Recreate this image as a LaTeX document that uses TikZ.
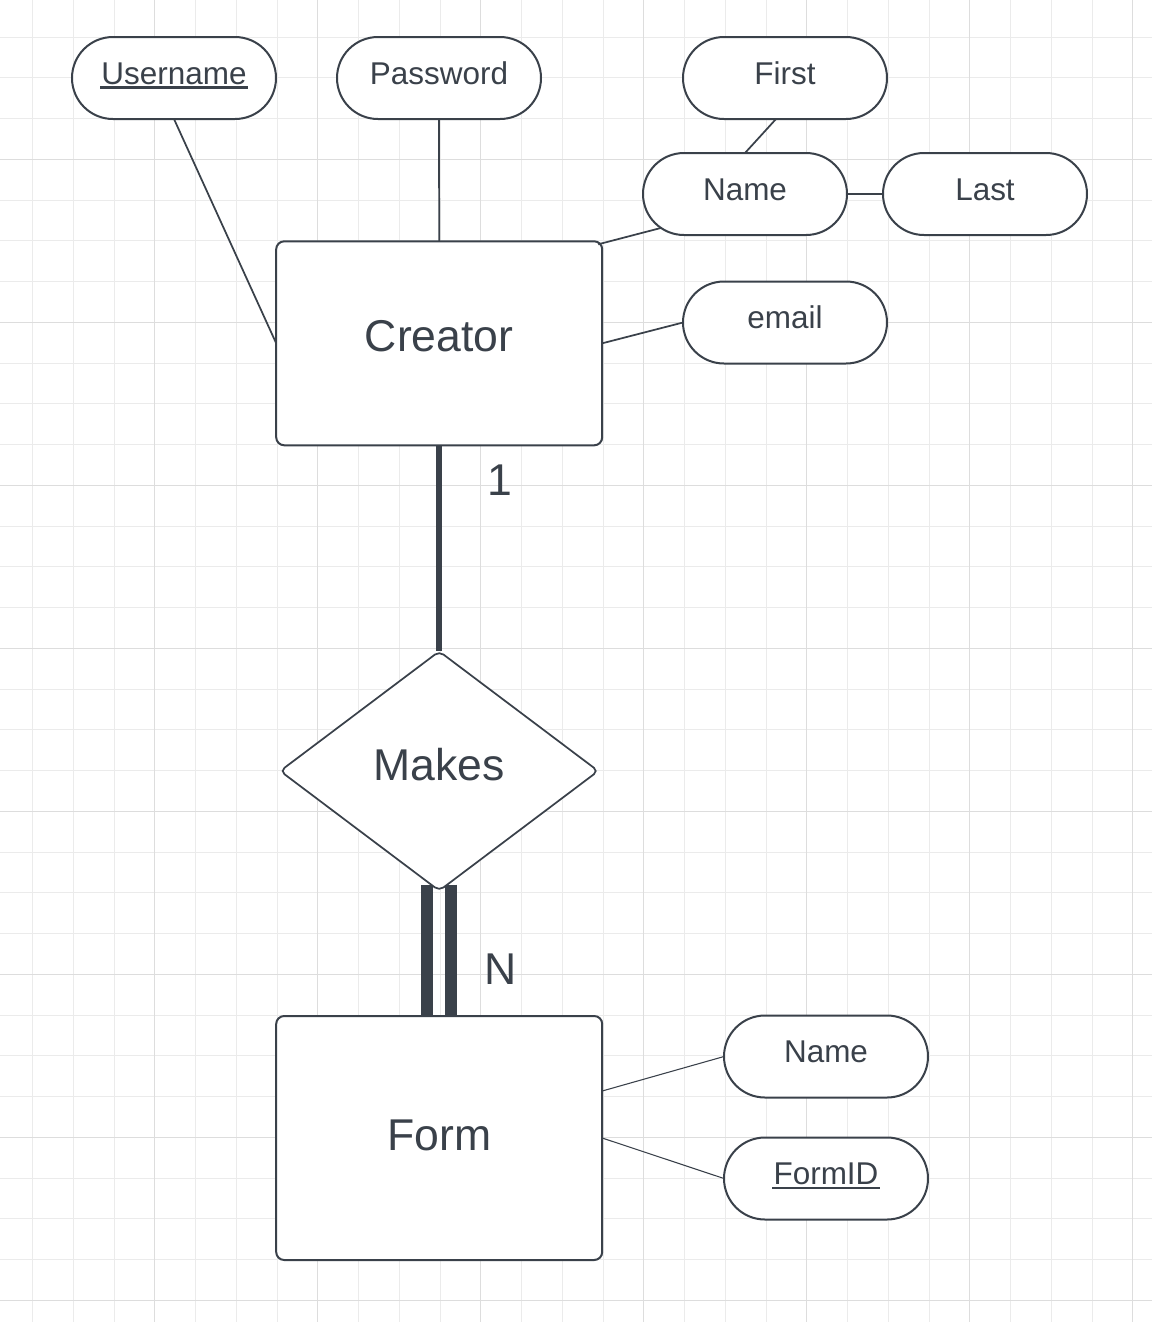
\documentclass[tikz,border=0pt]{standalone}
\usepackage{fontspec}
\setmainfont{Liberation Sans}
\usetikzlibrary{shapes.geometric,shapes.misc,calc}
\definecolor{ink}{HTML}{3A414A}
\definecolor{gridminor}{HTML}{EBEBEB}
\definecolor{gridmajor}{HTML}{DDDDDD}
\newcommand\ulx[1]{\setbox0\hbox{#1}\leavevmode\rlap{\kern-1pt\rule[-3.5pt]{\dimexpr\wd0+2pt\relax}{1.8pt}}\box0}
\begin{document}
\begin{tikzpicture}[x=0.75pt,y=-0.75pt,
  attr/.style={rounded rectangle, draw=ink, line width=1.5pt, fill=white,
    minimum width=153pt, minimum height=61.5pt, inner sep=0pt, outer sep=0pt,
    text=ink, font=\fontsize{23.6}{28}\selectfont, text height=9pt, text depth=0pt},
  entity/.style={rectangle, rounded corners=6pt, draw=ink, line width=1.5pt, fill=white,
    minimum width=244.5pt, inner sep=0pt, outer sep=0pt,
    text=ink, font=\fontsize{33.4}{40}\selectfont, text depth=0pt},
  rel/.style={diamond, draw=ink, line width=1.3pt, fill=white, rounded corners=4pt,
    minimum width=238.5pt, minimum height=179.5pt, inner sep=0pt, outer sep=0pt,
    text=ink, font=\fontsize{33.4}{40}\selectfont, text height=13.5pt, text depth=0pt},
  link/.style={draw=ink, line width=1.3pt},
  thinlink/.style={draw=ink, line width=0.8pt},
  heavy/.style={draw=ink, line width=4.75pt},
  bar/.style={draw=ink, line width=9pt},
  card/.style={text=ink, font=\fontsize{33.4}{40}\selectfont, text height=23.9pt, text depth=0pt, inner sep=0pt}
]
\fill[white] (0,0) rectangle (1152,1322);
\useasboundingbox (0,0) rectangle (1152,1322);
% grid
\foreach \k in {0,...,27} \draw[gridminor, line width=0.75pt] ({32.5+40.75*\k},0) -- ({32.5+40.75*\k},1322);
\foreach \k in {0,...,31} \draw[gridminor, line width=0.75pt] (0,{37+40.75*\k}) -- (1152,{37+40.75*\k});
\foreach \k in {3,7,...,27} \draw[gridmajor, line width=0.75pt] ({32.5+40.75*\k},0) -- ({32.5+40.75*\k},1322);
\foreach \k in {3,7,...,31} \draw[gridmajor, line width=0.75pt] (0,{37+40.75*\k}) -- (1152,{37+40.75*\k});

% nodes
\node[entity, minimum height=153pt, text height=11.6pt] (creator) at (439.2,343.3) {Creator};
\node[entity, minimum height=183pt, text height=18pt] (form) at (439.2,1138) {Form};
\node[rel] (mk) at (439.2,771) {Makes};

\node[attr] (user) at (174,78) {\ulx{Username}};
\node[attr] (pass) at (439,78) {Password};
\node[attr] (first) at (785,78) {First};
\node[attr] (name) at (745,194) {Name};
\node[attr] (last) at (985,194) {Last};
\node[attr] (email) at (785,322.5) {email};
\node[attr] (fname) at (826,1056.5) {Name};
\node[attr] (fid) at (826,1178.5) {\ulx{FormID}};

\node[card] (one) at (500,479.6) {1};
\node[card] (nn) at (500.8,968.5) {N};

% connectors
\draw[link] (user.south) -- (creator.west);
\draw[link] (pass.south) -- (creator.north);
\draw[link] ([shift={(-9,0)}]first.south) -- (name.north);
\draw[link] (name.east) -- (last.west);
\draw[link] (name.202.6) -- ([shift={(-4,3)}]creator.north east);
\draw[link] (email.west) -- (creator.east);
\draw[thinlink] (fname.west) -- ([shift={(0,-47)}]form.east);
\draw[thinlink] (fid.west) -- (form.east);
\draw[heavy] (creator.south) -- (mk.north);
\draw[bar] ([shift={(-12,-6)}]mk.south) -- ([shift={(-12,0)}]form.north);
\draw[bar] ([shift={(12,-6)}]mk.south) -- ([shift={(12,0)}]form.north);
\end{tikzpicture}
\end{document}
